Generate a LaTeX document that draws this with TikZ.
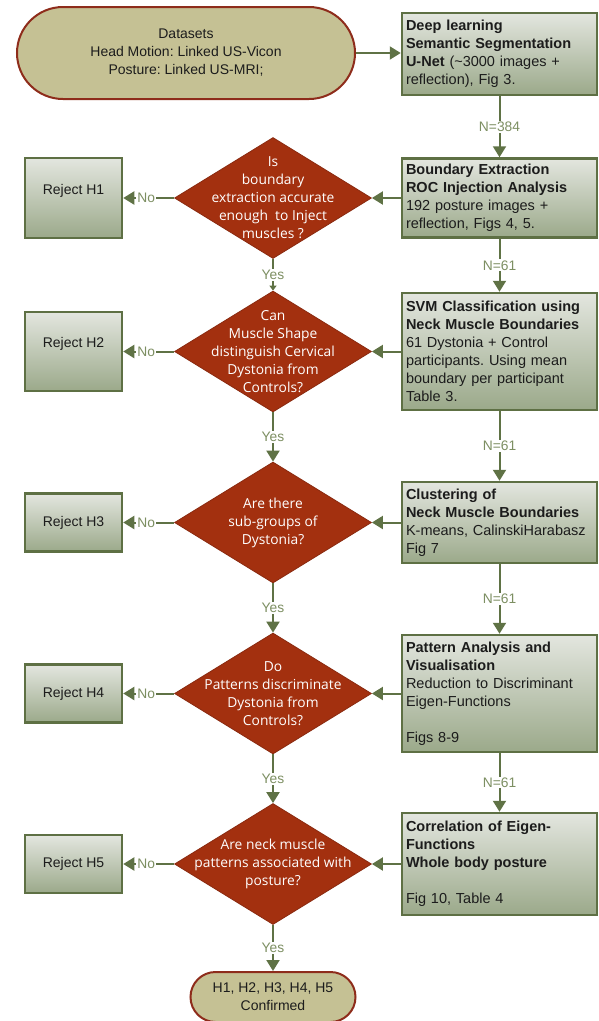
\documentclass[tikz,border=0pt]{standalone}
\usepackage{fontspec}
\setmainfont{Liberation Sans}
\newfontfamily\diaff{Open Sans}
\usetikzlibrary{shapes.geometric,shapes.misc,arrows.meta}
\definecolor{boxborder}{HTML}{5E7044}
\definecolor{boxtop}{HTML}{E3E6DF}
\definecolor{boxbot}{HTML}{9BA98A}
\definecolor{termfill}{HTML}{C5C194}
\definecolor{termborder}{HTML}{8E2C1B}
\definecolor{diafill}{HTML}{A3300F}
\definecolor{diaborder}{HTML}{8A2A10}
\definecolor{conncol}{HTML}{5F7245}
\definecolor{labcol}{HTML}{7D8F62}
\definecolor{textcol}{HTML}{1C1C1C}
\frenchspacing
\begin{document}
\begin{tikzpicture}[x=1pt,y=-1pt,
  stepbox/.style={draw=boxborder, line width=2.5pt, top color=boxtop, bottom color=boxbot,
    minimum width=195pt, text width=187pt, inner xsep=4pt, inner ysep=0pt, align=left,
    text=textcol, font=\fontsize{14.5}{18}\selectfont},
  rej/.style={draw=boxborder, line width=2.5pt, top color=boxtop, bottom color=boxbot,
    minimum width=97pt, inner sep=0pt, align=center, text=textcol,
    font=\fontsize{14}{18}\selectfont},
  dia/.style={diamond, draw=diaborder, fill=diafill, line width=0.8pt,
    minimum width=197pt, minimum height=121pt, inner sep=0pt},
  diatext/.style={text=white, align=center, inner sep=0pt,
    font=\diaff\fontsize{13.8}{18}\selectfont},
  term/.style={rounded rectangle, draw=termborder, fill=termfill, line width=2pt,
    inner sep=0pt, align=center, text=textcol, font=\fontsize{14}{18}\selectfont},
  conn/.style={draw=conncol, line width=2pt, -{Triangle[width=13pt,length=11pt]}},
  lab/.style={fill=white, text=labcol, inner sep=1pt, font=\fontsize{13.8}{16}\selectfont}
]
\useasboundingbox (0,0) rectangle (599,1021);

% terminals
\node[term, minimum width=338pt, minimum height=92pt] (t1) at (186,53)
  {Datasets\\Head Motion: Linked US-Vicon\\Posture: Linked US-MRI;};
\node[term, minimum width=165pt, minimum height=50pt] (t2) at (273,997)
  {H1, H2, H3, H4, H5\\Confirmed};

% right column
\node[stepbox, minimum height=82pt] (b1) at (499.5,54)
  {\textbf{Deep learning}\\\textbf{Semantic Segmentation}\\\textbf{U-Net} (\textasciitilde3000 images +\\reflection), Fig 3.};
\node[stepbox, minimum height=79pt] (b2) at (499.5,198)
  {\textbf{Boundary Extraction}\\\textbf{ROC Injection Analysis}\\192 posture images +\\reflection, Figs 4, 5.};
\node[stepbox, minimum height=117pt] (b3) at (499.5,351.5)
  {\textbf{SVM Classification using}\\\textbf{Neck Muscle Boundaries}\\61 Dystonia + Control\\participants. Using mean\\boundary per participant\\Table 3.};
\node[stepbox, minimum height=81pt] (b4) at (499.5,522.5)
  {\textbf{Clustering of}\\\textbf{Neck Muscle Boundaries}\\K-means, CalinskiHarabasz\\Fig 7};
\node[stepbox, minimum height=117pt] (b5) at (499.5,693.5)
  {\textbf{Pattern Analysis and}\\\textbf{Visualisation}\\Reduction to Discriminant\\Eigen-Functions\\[18pt]Figs 8-9};
\node[stepbox, minimum height=102pt] (b6) at (499.5,864)
  {\textbf{Correlation of Eigen-}\\\textbf{Functions}\\\textbf{Whole body posture}\\[18pt]Fig 10, Table 4};

% diamonds
\node[dia] (d1) at (273,198) {};
\node[dia] (d2) at (273,351.5) {};
\node[dia] (d3) at (273,522.5) {};
\node[dia] (d4) at (273,693.5) {};
\node[dia] (d5) at (273,864) {};
\node[diatext] (d1t) at (d1) {Is\\boundary\\extraction accurate\\enough~~to Inject\\muscles ?};
\node[diatext] (d2t) at (d2) {Can\\Muscle Shape\\distinguish Cervical\\Dystonia from\\Controls?};
\node[diatext] (d3t) at (d3) {Are there\\sub-groups of\\Dystonia?};
\node[diatext] (d4t) at (d4) {Do\\Patterns discriminate\\Dystonia from\\Controls?};
\node[diatext] (d5t) at (d5) {Are neck muscle\\patterns associated with\\posture?};

% reject boxes
\node[rej, minimum height=80pt] (r1) at (73.5,198) {Reject H1\\\mbox{}};
\node[rej, minimum height=79pt] (r2) at (73.5,351.5) {Reject H2\\\mbox{}};
\node[rej, minimum height=58pt] (r3) at (73.5,522.5) {Reject H3};
\node[rej, minimum height=58pt] (r4) at (73.5,693.5) {Reject H4};
\node[rej, minimum height=58pt] (r5) at (73.5,864) {Reject H5};

% connectors
\draw[conn] (t1.east) -- (t1.east -| b1.west);
\draw[conn] (b1) -- node[lab] (n1) {N=384} (b2);
\draw[conn] (b2) -- node[lab] (n2) {N=61} (b3);
\draw[conn] (b3) -- node[lab] (n3) {N=61} (b4);
\draw[conn] (b4) -- node[lab] (n4) {N=61} (b5);
\draw[conn] (b5) -- node[lab] (n5) {N=61} (b6);

\draw[conn] (b2) -- (d1);
\draw[conn] (b3) -- (d2);
\draw[conn] (b4) -- (d3);
\draw[conn] (b5) -- (d4);
\draw[conn] (b6) -- (d5);

\draw[conn] (d1) -- node[lab, pos=0.55] (no1) {No} (r1);
\draw[conn] (d2) -- node[lab, pos=0.55] (no2) {No} (r2);
\draw[conn] (d3) -- node[lab, pos=0.55] (no3) {No} (r3);
\draw[conn] (d4) -- node[lab, pos=0.55] (no4) {No} (r4);
\draw[conn] (d5) -- node[lab, pos=0.55] (no5) {No} (r5);

\draw[conn, -{Triangle[width=7pt,length=5pt]}] (d1) -- node[lab] (y1) {Yes} (d2);
\draw[conn] (d2) -- node[lab] (y2) {Yes} (d3);
\draw[conn] (d3) -- node[lab] (y3) {Yes} (d4);
\draw[conn] (d4) -- node[lab] (y4) {Yes} (d5);
\draw[conn] (d5) -- node[lab] (y5) {Yes} (t2);
\end{tikzpicture}
\end{document}
